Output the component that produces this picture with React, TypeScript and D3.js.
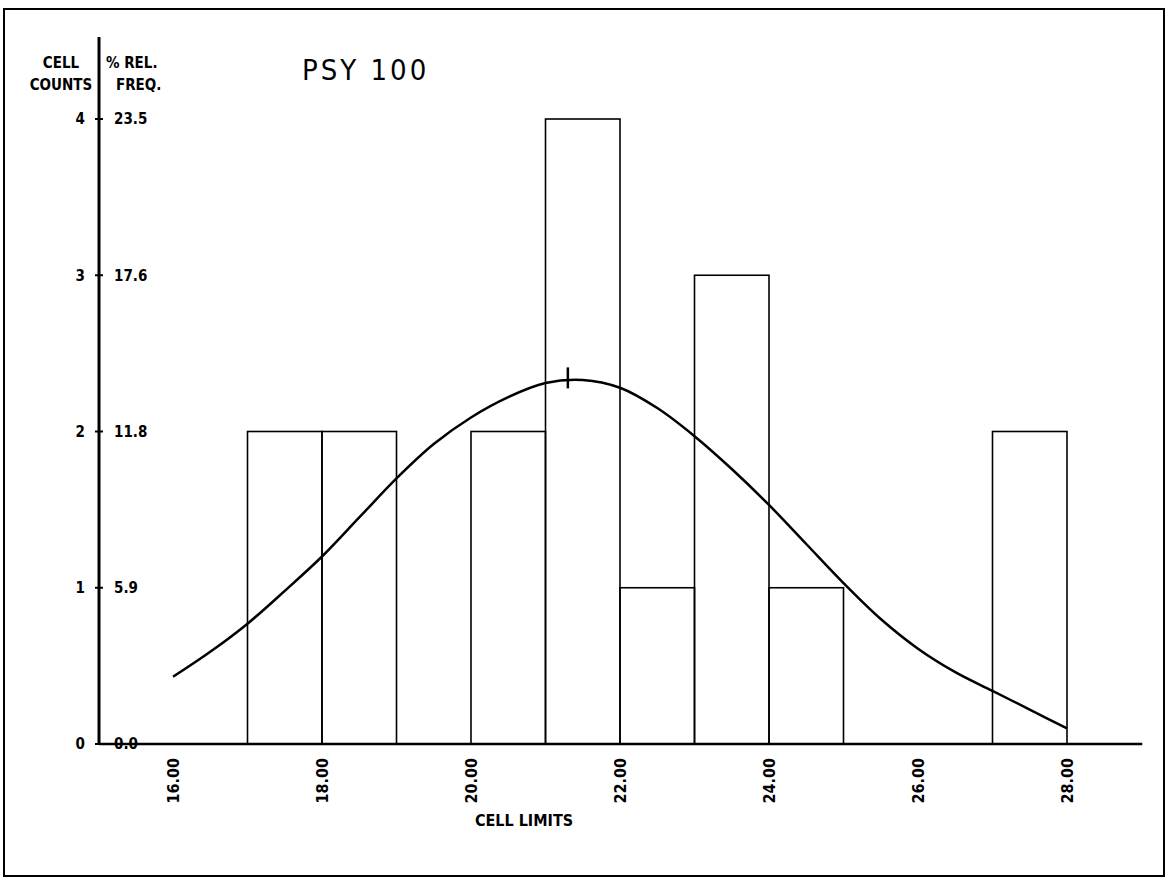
import React from 'react'
import * as d3 from 'd3'

// histogram: cells of width 1 from 16 to 28
const cellStarts = [16, 17, 18, 19, 20, 21, 22, 23, 24, 25, 26, 27]
const cellCounts = [0, 2, 2, 0, 2, 4, 1, 3, 1, 0, 0, 2]

const countTicks = [0, 1, 2, 3, 4]
const freqLabels = ['0.0', '5.9', '11.8', '17.6', '23.5']
const limitTicks = [16, 18, 20, 22, 24, 26, 28]
const limitLabels = ['16.00', '18.00', '20.00', '22.00', '24.00', '26.00', '28.00']

// fitted normal curve
const curveX = [16, 16.5, 17, 17.5, 18, 18.5, 19, 19.5, 20, 20.5, 21, 21.5, 22, 22.5, 23, 23.5, 24, 24.5, 25, 25.5, 26, 26.5, 27, 27.5, 28]
const curveY = [0.43, 0.59, 0.77, 0.98, 1.2, 1.45, 1.7, 1.92, 2.09, 2.22, 2.31, 2.33, 2.28, 2.15, 1.97, 1.76, 1.53, 1.28, 1.03, 0.8, 0.61, 0.46, 0.34, 0.22, 0.1]
const meanX = 21.3
const meanCount = 2.34

const W = 1167
const H = 879
const font = '"DejaVu Sans Condensed", "DejaVu Sans", sans-serif'

const App = () => {
  const x = d3.scaleLinear().domain([16, 28]).range([173, 1067])
  const y = d3.scaleLinear().domain([0, 4]).range([744, 119])

  const line = d3.line<number>()
    .x((_, i) => x(curveX[i]))
    .y(d => y(d))
    .curve(d3.curveCatmullRom)

  const meanY = y(meanCount)

  return (
    <div style={{ position: 'absolute', left: 0, top: 0 }}>
      <svg width={W} height={H} style={{ display: 'block', background: '#fff' }}>
        <rect x={4} y={9} width={1160} height={867} fill="none" stroke="#000" strokeWidth={2} />

        {/* bars */}
        {cellCounts.map((c, i) => c > 0 &&
          <rect key={i} x={x(cellStarts[i])} y={y(c)} width={x(cellStarts[i] + 1) - x(cellStarts[i])}
            height={y(0) - y(c)} fill="none" stroke="#000" strokeWidth={1.6} />
        )}

        {/* axes */}
        <line x1={99} x2={99} y1={37} y2={y(0) + 1} stroke="#000" strokeWidth={3} />
        <line x1={99} x2={x(29.01)} y1={y(0)} y2={y(0)} stroke="#000" strokeWidth={2.5} />

        {countTicks.map((t, i) =>
          <g key={t}>
            <line x1={95} x2={103} y1={y(t)} y2={y(t)} stroke="#000" strokeWidth={2} />
            <text x={85} y={y(t)} dy="0.35em" textAnchor="end" fontFamily={font} fontWeight="bold" fontSize={15}>{t}</text>
            <text x={114} y={y(t)} dy="0.35em" fontFamily={font} fontWeight="bold" fontSize={15}>{freqLabels[i]}</text>
          </g>
        )}

        {limitTicks.map((t, i) =>
          <text key={t} transform={`translate(${x(t)},758) rotate(-90)`} dy="0.35em" textAnchor="end"
            fontFamily={font} fontWeight="bold" fontSize={16}>{limitLabels[i]}</text>
        )}

        {/* normal curve */}
        <path d={line(curveY) || ''} fill="none" stroke="#000" strokeWidth={2.5} />
        <line x1={x(meanX)} x2={x(meanX)} y1={meanY - 11} y2={meanY + 10} stroke="#000" strokeWidth={2.5} />

        {/* labels */}
        <text x={61} y={68} textAnchor="middle" fontFamily={font} fontWeight="bold" fontSize={15}>CELL</text>
        <text x={61} y={90} textAnchor="middle" fontFamily={font} fontWeight="bold" fontSize={15}>COUNTS</text>
        <text x={106} y={68} fontFamily={font} fontWeight="bold" fontSize={15}>% REL.</text>
        <text x={116} y={90} fontFamily={font} fontWeight="bold" fontSize={15}>FREQ.</text>
        <text x={302} y={80} fontFamily={font} fontSize={29} letterSpacing={3}>PSY 100</text>
        <text x={524} y={826} textAnchor="middle" fontFamily={font} fontWeight="bold" fontSize={16}>CELL LIMITS</text>
      </svg>
    </div>
  )
}

export default App
